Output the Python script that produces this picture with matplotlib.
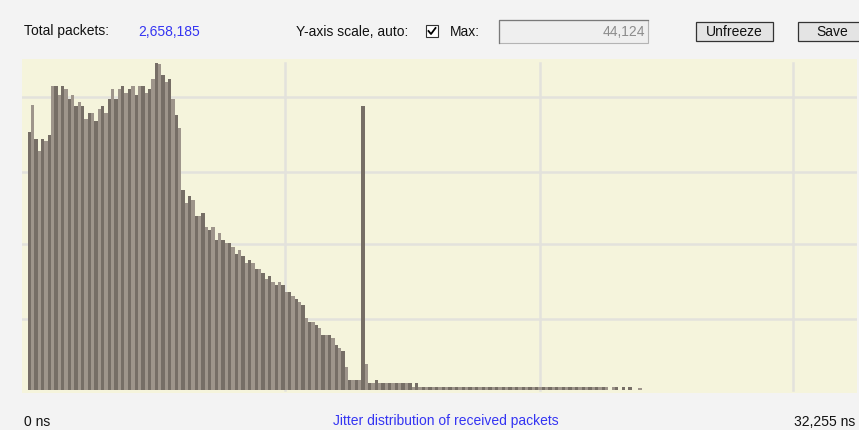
import numpy as np
import matplotlib.pyplot as plt
from matplotlib.patches import Rectangle
from matplotlib.lines import Line2D

plt.rcParams['font.family'] = ['Liberation Sans', 'DejaVu Sans']
plt.rcParams['font.size'] = 10

total_packets = '2,658,185'
max_text = '44,124'
x_left_label = '0 ns'
x_right_label = '32,255 ns'
title = 'Jitter distribution of received packets'

# packets per jitter bin
counts_head = [34800, 38400, 33900, 32200, 33900, 33600, 34400, 41000, 41000, 39700,
               41000, 40600, 39200, 39700, 38300, 38800, 38300, 36500, 37400, 37400,
               36200, 37900, 38300, 37400, 39200, 40600, 39200, 40600, 41000, 40100,
               40600, 41000, 39700, 41000, 41000, 40100, 40600, 41900, 44124, 44000,
               42400, 41500, 41900, 39200, 37100, 35300]
counts_slope = [27000, 25200, 26100, 25600, 23400, 23400, 23800, 22000, 21600, 22000,
                20200, 21100, 20200, 19800, 19800, 19300, 18400, 18900, 18000, 17100,
                17500, 17100, 16300, 16300, 15800, 15000, 15400, 14500, 14100, 14500,
                14100, 13200, 13200, 12700, 12300, 11800, 11400, 9700, 9200, 9200,
                8800, 8300, 7400, 7400, 7400, 7000, 6100, 5600, 5200, 3100,
                1350, 1350, 1350, 1350]
counts_spike = [38300, 3500]
counts_tail = [900, 900, 1350, 900, 900, 900, 900, 900, 900, 900,
               900, 900, 900, 450, 900, 450, 450, 450, 450, 450,
               450, 450, 450, 450, 450, 450, 450, 450, 450, 450,
               450, 450, 450, 450, 450, 450, 450, 450, 450, 450,
               450, 450, 450, 450, 450, 450, 450, 450, 450, 450,
               450, 450, 450, 450, 450, 450, 450, 450, 450, 450,
               450, 450, 450, 450, 450, 450, 450, 450, 450, 450,
               450, 450, 0, 450, 450, 0, 450, 0, 450, 0,
               0, 300]

grid_y = [9530, 19680, 29350, 39540]
grid_x = [76.6, 153.0, 228.7]

counts = np.array(counts_head + counts_slope + counts_spike + counts_tail)
bins = np.arange(len(counts))
colors = ['#766e66' if i % 2 == 0 else '#9e958b' for i in bins]

W, H = 859, 430
fig = plt.figure(figsize=(W / 100, H / 100), dpi=100)
fig.patch.set_facecolor('#f3f3f3')

# ---- the histogram
ax = fig.add_axes([21.7 / W, 1 - 393 / H, 835 / W, 333.7 / H])
ax.set_facecolor('#f5f4dc')
for s in ax.spines.values():
    s.set_visible(False)
ax.set_xticks([])
ax.set_yticks([])
for gy in grid_y:
    ax.axhline(gy, color='#e3e2dc', lw=1.8, zorder=0)
for gx in grid_x:
    ax.axvline(gx, ymin=0.009, ymax=0.99, color='#e3e2dc', lw=1.8, zorder=0)
ax.bar(bins, counts, width=1.0, color=colors, linewidth=0, zorder=2)
ax.set_xlim(-2.3, 247.9)
ax.set_ylim(-404, 44578)

# ---- the window controls round it, in pixel coords
ui = fig.add_axes([0, 0, 1, 1], zorder=-1)
ui.set_xlim(0, W)
ui.set_ylim(H, 0)
ui.axis('off')

ui.text(24, 31.5, 'Total packets:', ha='left', va='center', color='#111111')
ui.text(138, 31.5, total_packets, ha='left', va='center', color='#3434f2')
ui.text(296, 31.5, 'Y-axis scale, auto:', ha='left', va='center', color='#111111')

ui.add_patch(Rectangle((426, 25), 12, 12, facecolor='white', edgecolor='#333333', lw=0.8))
ui.add_line(Line2D([428.5, 431, 435.5], [31, 34, 28], color='black', lw=1.3))
ui.text(450, 31.5, 'Max:', ha='left', va='center', color='#111111')

ui.add_patch(Rectangle((499, 20), 149, 23, facecolor='#efefef', edgecolor='#b4b4b4', lw=0.8))
ui.add_line(Line2D([499, 499, 648], [43, 20, 20], color='#7a7a7a', lw=0.9))
ui.text(645, 31.5, max_text, ha='right', va='center', color='#8c8c8c')

ui.add_patch(Rectangle((696, 22), 77, 19, facecolor='#e4e4e4', edgecolor='#333333', lw=0.9))
ui.text(734.5, 31.5, 'Unfreeze', ha='center', va='center', color='#111111')
ui.add_patch(Rectangle((798, 22), 70, 19, facecolor='#e4e4e4', edgecolor='#333333', lw=0.9))
ui.text(832, 31.5, 'Save', ha='center', va='center', color='#111111')

ui.text(24, 421.5, x_left_label, ha='left', va='center', color='#111111')
ui.text(446, 421.5, title, ha='center', va='center', color='#3434f2')
ui.text(855, 421.5, x_right_label, ha='right', va='center', color='#111111')

fig.savefig('out.png', dpi=100, facecolor=fig.get_facecolor())
